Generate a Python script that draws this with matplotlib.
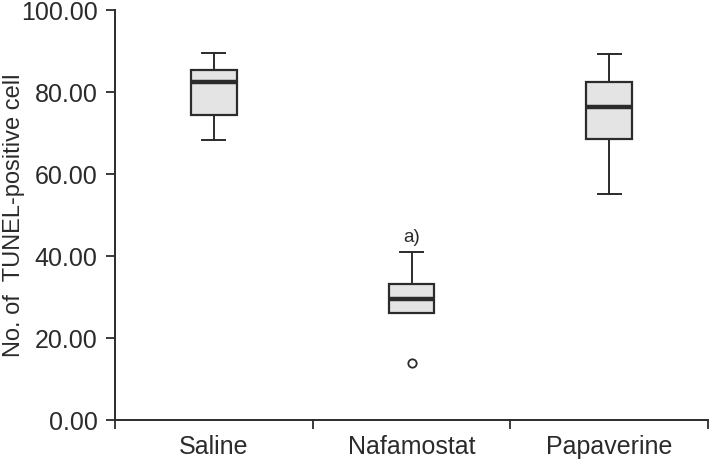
import matplotlib
matplotlib.use("Agg")
import matplotlib.pyplot as plt

plt.rcParams['font.family'] = ['Liberation Sans', 'DejaVu Sans']

categories = ["Saline", "Nafamostat", "Papaverine"]
whis_low = [68.3, 26.1, 55.2]
q1 = [74.3, 26.1, 68.5]
median = [82.4, 29.6, 76.3]
q3 = [85.4, 33.2, 82.4]
whis_high = [89.4, 41.0, 89.3]
fliers = [[], [14.0], []]
yticks = [0, 20, 40, 60, 80, 100]
annot_text = "a)"
annot_cat = 1
annot_y = 44.5

stats = []
for i, c in enumerate(categories):
    stats.append(dict(label=c, whislo=whis_low[i], q1=q1[i], med=median[i],
                      q3=q3[i], whishi=whis_high[i], fliers=fliers[i]))

fig = plt.figure(figsize=(7.09, 4.61), dpi=100)
ax = fig.add_axes([115/709, 41/461, 593/709, 410/461])

ink = "#2b2b2b"
positions = list(range(len(categories)))
ax.bxp(stats, positions=positions, widths=0.23, patch_artist=True,
       boxprops=dict(facecolor="#e4e4e4", edgecolor=ink, linewidth=1.6),
       medianprops=dict(color=ink, linewidth=3.2, solid_capstyle='butt'),
       whiskerprops=dict(color=ink, linewidth=1.4),
       capprops=dict(color=ink, linewidth=1.4),
       capwidths=0.115,
       flierprops=dict(marker='o', markersize=6, markerfacecolor='white',
                       markeredgecolor=ink, markeredgewidth=1.3),
       manage_ticks=False)

ax.text(positions[annot_cat], annot_y, annot_text, ha='center', va='center',
        fontsize=13.5, color=ink)

ax.set_xlim(-0.5, len(categories) - 0.5)
ax.set_ylim(0, 100)
ax.set_yticks(yticks)
ax.set_yticklabels([f"{v:.2f}" for v in yticks], fontsize=18, color=ink)

# category boundaries as ticks, labels at centers
ax.set_xticks([i + 0.5 for i in range(-1, len(categories))])
ax.set_xticklabels([])
ax.set_xticks(positions, minor=True)
ax.set_xticklabels(categories, minor=True, fontsize=18, color=ink)
ax.tick_params(axis='x', which='minor', length=0, pad=11)
ax.tick_params(axis='x', which='major', length=6.5, width=1.3, color=ink, direction='out')
ax.tick_params(axis='y', length=6.5, width=1.3, color=ink, direction='out', pad=6)

for s in ['top', 'right']:
    ax.spines[s].set_visible(False)
for s in ['left', 'bottom']:
    ax.spines[s].set_color(ink)
    ax.spines[s].set_linewidth(1.4)

ax.set_ylabel("No. of  TUNEL-positive cell", fontsize=17, color=ink)
ax.yaxis.set_label_coords(-0.151, 0.5)

fig.savefig("out.png", dpi=100)
